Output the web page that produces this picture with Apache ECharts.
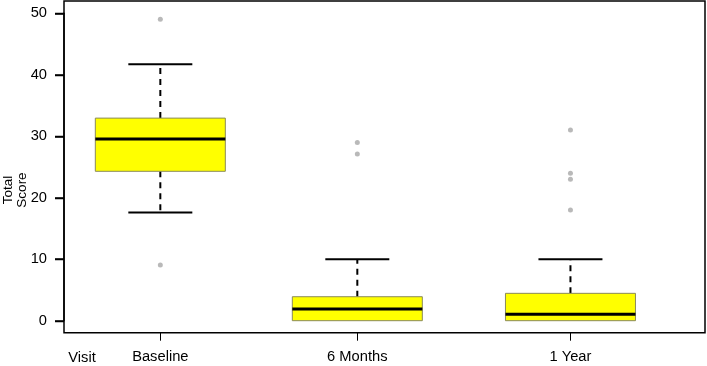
<!DOCTYPE html>
<html><head><meta charset="utf-8">
<script src="https://cdn.jsdelivr.net/npm/echarts@6/dist/echarts.min.js"></script>
<style>html,body{margin:0;padding:0;background:#fff}#c{width:707px;height:366px}</style>
</head><body><div id="c"></div>
<script>
// ---- data ----
const categories = ['Baseline', '6 Months', '1 Year'];
const xPositions = [1, 2, 3.082];
const lowerWhisker = [17.6, 0, 0];
const q1 = [24.3, 0, 0];
const median = [29.55, 1.9, 1.05];
const q3 = [32.95, 3.9, 4.45];
const upperWhisker = [41.7, 10, 10];
const outliers = [[49.05, 9.05], [29.0, 27.1], [31.0, 24.0, 23.0, 18.0]];
const yTicks = [0, 10, 20, 30, 40, 50];
const yTitle = 'Total\nScore';
const xTitle = 'Visit';

// ---- build ----
const FONT = '"Liberation Sans", Arial, Helvetica, sans-serif';
const X_MIN = 0.511, X_MAX = 3.765;
const boxData = categories.map((c, i) => [xPositions[i], lowerWhisker[i], q1[i], median[i], q3[i], upperWhisker[i]]);
const outlierData = [];
outliers.forEach((arr, i) => arr.forEach(v => outlierData.push([xPositions[i], v])));
const yTickData = yTicks.map(v => [X_MIN, v]);

const chart = echarts.init(document.getElementById('c'), null, {renderer: 'canvas'});
chart.setOption({
  animation: false,
  backgroundColor: '#fff',
  grid: {left: 64, right: 2, top: 13.3, bottom: 45.3, show: false},
  xAxis: {
    type: 'value', min: X_MIN, max: X_MAX, offset: 12,
    axisLine: {show: false, onZero: false},
    splitLine: {show: false},
    axisTick: {show: true, inside: false, length: 8, lineStyle: {color: '#000', width: 1}, customValues: xPositions},
    axisLabel: {
      margin: 17, color: '#000', fontSize: 14.7, fontFamily: FONT,
      customValues: xPositions,
      formatter: v => { const i = xPositions.findIndex(p => Math.abs(p - v) < 1e-6); return i >= 0 ? categories[i] : ''; }
    }
  },
  yAxis: {
    type: 'value', min: yTicks[0], max: yTicks[yTicks.length - 1], interval: yTicks[1] - yTicks[0],
    axisLine: {show: true, onZero: false, lineStyle: {color: '#000', width: 1.5}},
    splitLine: {show: false},
    axisTick: {show: true, inside: false, length: 9, lineStyle: {color: '#000', width: 1.5}},
    axisLabel: {margin: 17, color: '#000', fontSize: 14.7, fontFamily: FONT}
  },
  graphic: [
    {type: 'rect', shape: {x: 64, y: 1, width: 641, height: 331.7}, style: {fill: null, stroke: '#000', lineWidth: 1.5}, z: 10},
    {type: 'text', x: 15, y: 190, rotation: Math.PI / 2,
     style: {text: yTitle, align: 'center', verticalAlign: 'middle', fill: '#000', font: '13.5px ' + FONT, lineHeight: 14}},
    {type: 'text', x: 82, y: 358,
     style: {text: xTitle, align: 'center', verticalAlign: 'middle', fill: '#000', font: '14.7px ' + FONT}}
  ],
  series: [
    {
      type: 'custom',
      data: boxData,
      clip: false,
      renderItem: function (params, api) {
        const x = api.value(0);
        const lw = api.coord([x, api.value(1)]);
        const b1 = api.coord([x, api.value(2)]);
        const md = api.coord([x, api.value(3)]);
        const b3 = api.coord([x, api.value(4)]);
        const uw = api.coord([x, api.value(5)]);
        const cx = lw[0];
        const hb = 65, hc = 32;
        const children = [];
        const dash = {stroke: '#000', lineWidth: 2, lineDash: [6, 5]};
        const solid = {stroke: '#000', lineWidth: 2};
        if (uw[1] < b3[1]) {
          children.push({type: 'line', shape: {x1: cx, y1: b3[1], x2: cx, y2: uw[1]}, style: dash});
          children.push({type: 'line', shape: {x1: cx - hc, y1: uw[1], x2: cx + hc, y2: uw[1]}, style: solid});
        }
        if (lw[1] > b1[1]) {
          children.push({type: 'line', shape: {x1: cx, y1: b1[1], x2: cx, y2: lw[1]}, style: dash});
          children.push({type: 'line', shape: {x1: cx - hc, y1: lw[1], x2: cx + hc, y2: lw[1]}, style: solid});
        }
        children.push({type: 'rect', shape: {x: cx - hb, y: b3[1], width: 2 * hb, height: b1[1] - b3[1]},
          style: {fill: '#ffff00', stroke: '#8a8a5a', lineWidth: 1}});
        children.push({type: 'line', shape: {x1: cx - hb, y1: md[1], x2: cx + hb, y2: md[1]}, style: {stroke: '#000', lineWidth: 3}});
        return {type: 'group', children: children};
      }
    },
    {
      type: 'custom',
      data: yTickData,
      clip: false,
      silent: true,
      z: 11,
      renderItem: function (params, api) {
        const p = api.coord([api.value(0), api.value(1)]);
        const y = Math.round(p[1]) + 0.5;
        return {type: 'line', shape: {x1: p[0] - 9, y1: y, x2: p[0], y2: y}, style: {stroke: '#000', lineWidth: 1.5}};
      }
    },
    {
      type: 'scatter',
      data: outlierData,
      symbol: 'circle',
      symbolSize: 5,
      clip: false,
      itemStyle: {color: '#a8a8a8'},
      z: 3
    }
  ]
});
</script>
</body></html>
